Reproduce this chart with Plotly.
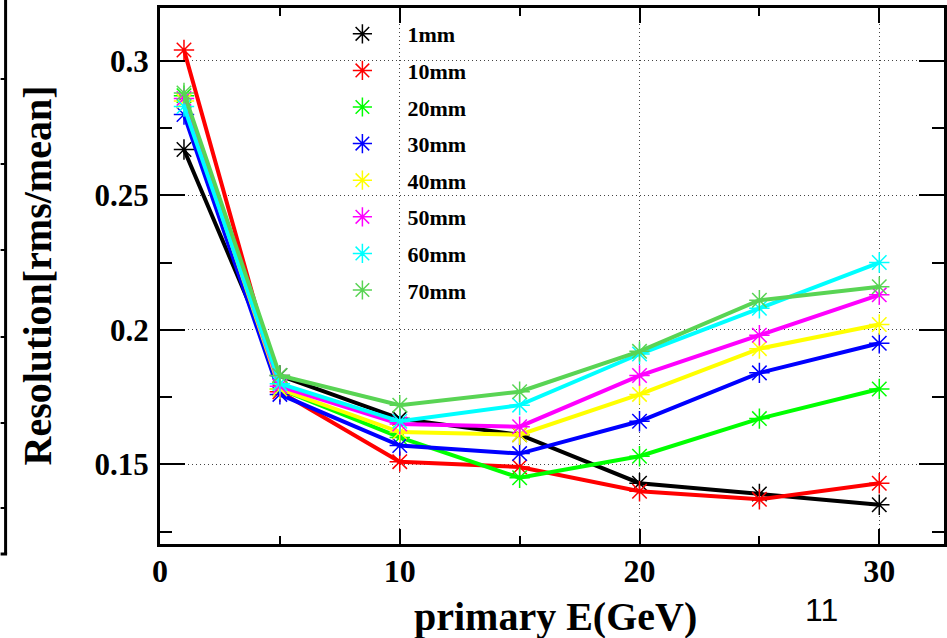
import plotly.graph_objects as go

# ---------------- data ----------------
energy = [1, 5, 10, 15, 20, 25, 30]
series_names = ["1mm", "10mm", "20mm", "30mm", "40mm", "50mm", "60mm", "70mm"]
res_1mm = [0.267, 0.183, 0.167, 0.161, 0.143, 0.139, 0.135]
res_10mm = [0.304, 0.177, 0.151, 0.149, 0.140, 0.137, 0.143]
res_20mm = [0.287, 0.178, 0.160, 0.145, 0.153, 0.167, 0.178]
res_30mm = [0.280, 0.176, 0.157, 0.154, 0.166, 0.184, 0.195]
res_40mm = [0.285, 0.178, 0.162, 0.161, 0.176, 0.193, 0.202]
res_50mm = [0.286, 0.179, 0.165, 0.164, 0.183, 0.198, 0.213]
res_60mm = [0.283, 0.180, 0.166, 0.172, 0.191, 0.208, 0.225]
res_70mm = [0.288, 0.183, 0.172, 0.177, 0.192, 0.211, 0.216]
series_values = [res_1mm, res_10mm, res_20mm, res_30mm,
                 res_40mm, res_50mm, res_60mm, res_70mm]
series_colors = ["#000000", "#ff0000", "#00ff00", "#0000ff",
                 "#ffff00", "#ff00ff", "#00ffff", "#59d454"]

x_title = "primary E(GeV)"
y_title = "Resolution[rms/mean]"
page_number = "11"

# ---------------- layout geometry (pixels) ----------------
W, H = 947, 638
ML, MR, MT, MB = 160, 0, 8, 94
PW, PH = W - ML - MR, H - MT - MB


def px(xp):
    return (xp - ML) / PW


def py(yp):
    return (H - MB - yp) / PH


SERIF = "Liberation Serif"

fig = go.Figure()

for name, vals, col in zip(series_names, series_values, series_colors):
    fig.add_trace(go.Scatter(
        x=energy, y=vals, mode="lines+markers", name=name,
        line=dict(color=col, width=4),
        marker=dict(symbol="asterisk-open", size=17, color=col,
                    line=dict(color=col, width=1.5)),
        showlegend=False,
    ))

# legend-only entries (marker only, as in the original)
for name, col in zip(series_names, series_colors):
    fig.add_trace(go.Scatter(
        x=[None], y=[None], mode="markers", name=name, legendgroup=name,
        marker=dict(symbol="asterisk-open", size=17, color=col,
                    line=dict(color=col, width=1.5)),
        showlegend=True,
    ))

shapes = []
# white legend box hiding the grid
shapes.append(dict(type="rect", xref="paper", yref="paper",
                   x0=px(305), x1=px(705), y0=py(305), y1=py(MT),
                   fillcolor="white", line=dict(width=0), layer="between"))
# white strips in the tick zones (grid does not run through ticks)
shapes.append(dict(type="rect", xref="paper", yref="paper",
                   x0=0, x1=px(186), y0=0, y1=1,
                   fillcolor="white", line=dict(width=0), layer="between"))
shapes.append(dict(type="rect", xref="paper", yref="paper",
                   x0=px(925), x1=1, y0=0, y1=1,
                   fillcolor="white", line=dict(width=0), layer="between"))
shapes.append(dict(type="rect", xref="paper", yref="paper",
                   x0=0, x1=1, y0=0, y1=py(529),
                   fillcolor="white", line=dict(width=0), layer="between"))
shapes.append(dict(type="rect", xref="paper", yref="paper",
                   x0=0, x1=1, y0=py(23), y1=1,
                   fillcolor="white", line=dict(width=0), layer="between"))

# partial frame of the neighbouring plot at the far left of the slide
shapes.append(dict(type="line", xref="paper", yref="paper",
                   x0=px(5), x1=px(5), y0=py(0), y1=py(554),
                   line=dict(color="black", width=3)))
shapes.append(dict(type="line", xref="paper", yref="paper",
                   x0=px(0), x1=px(6.5), y0=py(554), y1=py(554),
                   line=dict(color="black", width=3)))
for ty in [79, 164, 250, 337, 423, 508]:
    shapes.append(dict(type="line", xref="paper", yref="paper",
                       x0=px(0), x1=px(5), y0=py(ty), y1=py(ty),
                       line=dict(color="black", width=2)))

annotations = [
    dict(text=x_title, xref="paper", yref="paper",
         x=px(557), y=py(616), xanchor="center", yanchor="middle",
         showarrow=False,
         font=dict(family=SERIF, size=40, color="black", weight="bold")),
    dict(text=y_title, xref="paper", yref="paper", textangle=-90,
         x=px(37), y=py(275), xanchor="center", yanchor="middle",
         showarrow=False,
         font=dict(family=SERIF, size=40, color="black", weight="bold")),
    dict(text=page_number, xref="paper", yref="paper",
         x=px(824), y=py(610), xanchor="center", yanchor="middle",
         showarrow=False,
         font=dict(family="Liberation Sans", size=32, color="black")),
]

grid_style = dict(showgrid=True, gridcolor="#444444", gridwidth=1,
                  griddash="1px,3px")

fig.update_layout(
    width=W, height=H,
    margin=dict(l=ML, r=MR, t=MT, b=MB, pad=0),
    paper_bgcolor="white", plot_bgcolor="white",
    showlegend=True,
    legend=dict(x=px(318), y=py(13), xanchor="left", yanchor="top",
                bgcolor="rgba(0,0,0,0)", borderwidth=0,
                itemwidth=80, tracegroupgap=5,
                font=dict(family=SERIF, size=22, color="black", weight="bold")),
    shapes=shapes,
    annotations=annotations,
    xaxis=dict(range=[0, 32.7], tick0=0, dtick=10,
               ticks="inside", ticklen=15, tickwidth=2, tickcolor="black",
               minor=dict(dtick=5, ticks="inside", ticklen=8, tickwidth=2,
                          tickcolor="black", showgrid=False),
               showline=True, linewidth=3, linecolor="black", mirror="ticks",
               zeroline=False, ticklabelstandoff=-3,
               tickfont=dict(family=SERIF, size=32, color="black", weight="bold"),
               **grid_style),
    yaxis=dict(range=[0.1204, 0.3196], tick0=0, dtick=0.05,
               ticks="inside", ticklen=25, tickwidth=2, tickcolor="black",
               minor=dict(dtick=0.025, ticks="inside", ticklen=12, tickwidth=2,
                          tickcolor="black", showgrid=False),
               showline=True, linewidth=3, linecolor="black", mirror="ticks",
               zeroline=False, ticklabelstandoff=2,
               tickfont=dict(family=SERIF, size=31, color="black", weight="bold"),
               **grid_style),
)

fig.write_html(
    "out.html",
    config={"displayModeBar": False},
    post_script="document.body.style.margin='0';"
                "document.body.style.overflow='hidden';",
)
